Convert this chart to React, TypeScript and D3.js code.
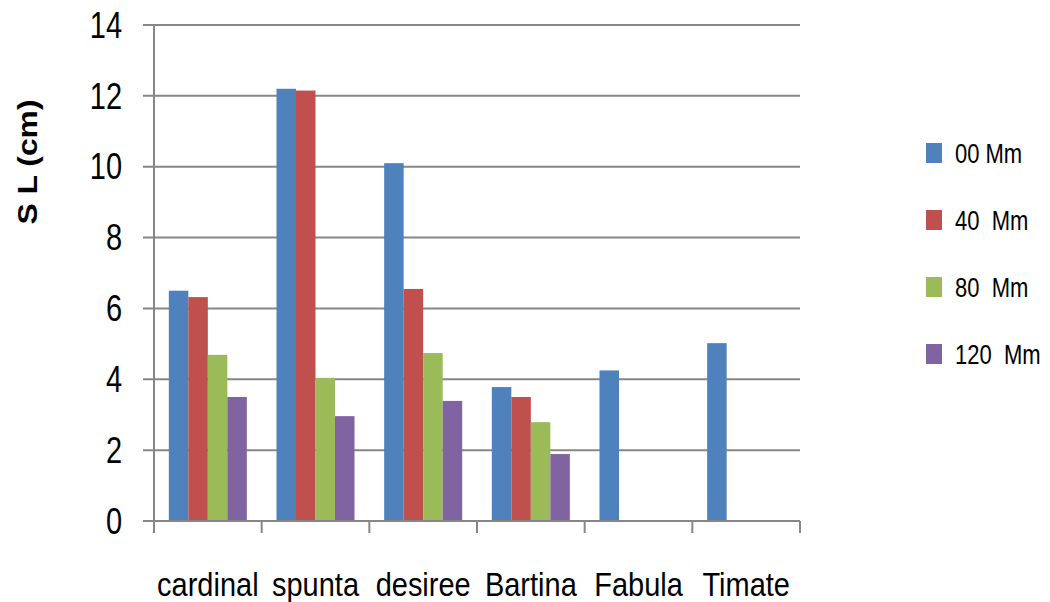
import React, { useEffect, useRef } from 'react';
import * as d3 from 'd3';

const categories = ['cardinal', 'spunta', 'desiree', 'Bartina', 'Fabula', 'Timate'];
const seriesNames = ['00 Mm', '40  Mm', '80  Mm', '120  Mm'];
const colors = ['#4F81BD', '#C0504D', '#9BBB59', '#8064A2'];

const s00 = [6.5, 12.2, 10.1, 3.78, 4.25, 5.02];
const s40 = [6.32, 12.15, 6.55, 3.5, null, null];
const s80 = [4.69, 4.04, 4.74, 2.79, null, null];
const s120 = [3.5, 2.96, 3.39, 1.89, null, null];
const seriesValues = [s00, s40, s80, s120];

const yTicks = [0, 2, 4, 6, 8, 10, 12, 14];

const App = () => {
  const svgRef = useRef<SVGSVGElement | null>(null);

  const W = 1050;
  const H = 602;
  const left = 154;
  const right = 800;
  const top = 25;
  const bottom = 521;
  const font = '"Liberation Sans", Arial, sans-serif';
  const gridColor = '#878787';

  useEffect(() => {
    if (!svgRef.current) return;
    const svg = d3.select(svgRef.current);
    svg.selectAll('*').remove();

    const x0 = d3.scaleBand<string>().domain(categories).range([left, right]).paddingInner(0).paddingOuter(0);
    const x1 = d3
      .scaleBand<string>()
      .domain(seriesNames)
      .range([0, x0.bandwidth()])
      .paddingInner(0)
      .paddingOuter(0.76);
    const y = d3.scaleLinear().domain([0, 14]).range([bottom, top]);

    // gridlines + y tick labels
    yTicks.forEach((t) => {
      svg
        .append('line')
        .attr('x1', left - 11)
        .attr('x2', right)
        .attr('y1', y(t))
        .attr('y2', y(t))
        .attr('stroke', gridColor)
        .attr('stroke-width', 2);
      svg
        .append('text')
        .attr('transform', `translate(122,${y(t)}) scale(1,1.25)`)
        .attr('text-anchor', 'end')
        .attr('dominant-baseline', 'central')
        .attr('font-family', font)
        .attr('font-size', 29)
        .attr('fill', '#000')
        .text(t);
    });

    // y axis line
    svg
      .append('line')
      .attr('x1', left)
      .attr('x2', left)
      .attr('y1', top)
      .attr('y2', bottom)
      .attr('stroke', gridColor)
      .attr('stroke-width', 2);

    // bars
    seriesValues.forEach((vals, si) => {
      svg
        .append('g')
        .selectAll('rect')
        .data(categories.map((c, i) => ({ c, v: vals[i] })).filter((d) => d.v !== null))
        .enter()
        .append('rect')
        .attr('x', (d) => x0(d.c)! + x1(seriesNames[si])!)
        .attr('y', (d) => y(d.v as number))
        .attr('width', x1.bandwidth())
        .attr('height', (d) => bottom - y(d.v as number))
        .attr('fill', colors[si]);
    });

    // x axis + ticks
    svg
      .append('line')
      .attr('x1', left - 11)
      .attr('x2', right)
      .attr('y1', bottom)
      .attr('y2', bottom)
      .attr('stroke', gridColor)
      .attr('stroke-width', 2);
    const bounds = categories.map((c) => x0(c)!).concat([right]);
    bounds.forEach((bx) => {
      svg
        .append('line')
        .attr('x1', bx)
        .attr('x2', bx)
        .attr('y1', bottom)
        .attr('y2', bottom + 12)
        .attr('stroke', gridColor)
        .attr('stroke-width', 2);
    });

    // category labels
    categories.forEach((c) => {
      svg
        .append('text')
        .attr('transform', `translate(${x0(c)! + x0.bandwidth() / 2},596) scale(1,1.12)`)
        .attr('text-anchor', 'middle')
        .attr('font-family', font)
        .attr('font-size', 29)
        .attr('fill', '#000')
        .text(c);
    });

    // y axis title
    svg
      .append('text')
      .attr('transform', 'translate(37,162) rotate(-90) scale(1.18,1)')
      .attr('text-anchor', 'middle')
      .attr('font-family', font)
      .attr('font-size', 27)
      .attr('font-weight', 'bold')
      .attr('fill', '#000')
      .text('S L (cm)');

    // legend
    seriesNames.forEach((name, i) => {
      const cy = 153 + i * 67;
      svg
        .append('rect')
        .attr('x', 926)
        .attr('y', cy - 10)
        .attr('width', 16)
        .attr('height', 20)
        .attr('fill', colors[i]);
      svg
        .append('text')
        .attr('transform', `translate(955,${cy}) scale(1,1.27)`)
        .attr('dominant-baseline', 'central')
        .attr('font-family', font)
        .attr('font-size', 22)
        .attr('fill', '#000')
        .style('white-space', 'pre')
        .text(name);
    });
  }, []);

  return (
    <svg
      ref={svgRef}
      width={W}
      height={H}
      style={{ position: 'absolute', left: 0, top: 0, background: '#fff' }}
    />
  );
};

export default App;
